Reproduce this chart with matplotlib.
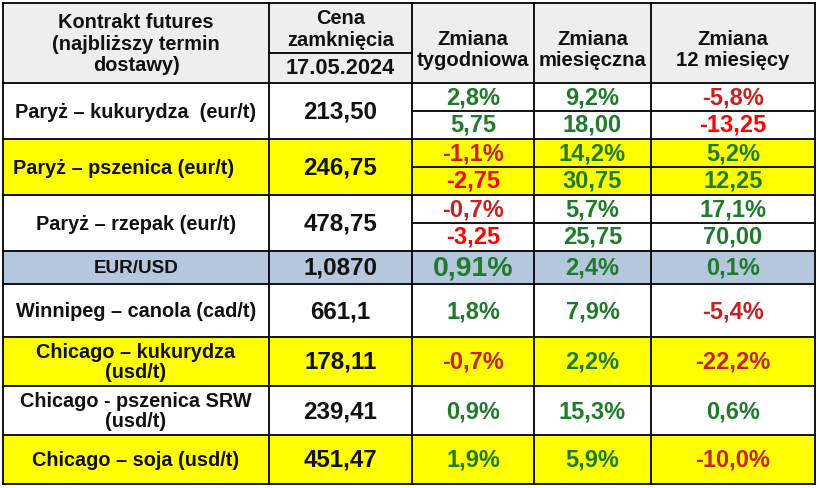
import matplotlib
matplotlib.use("Agg")
import matplotlib.pyplot as plt
from matplotlib.patches import Rectangle

plt.rcParams['font.family'] = ['Liberation Sans', 'DejaVu Sans']
plt.rcParams['font.weight'] = 'bold'

# ---------------- data ----------------
headers = ["Kontrakt futures\n(najbliższy termin\ndostawy)", "Cena\nzamknięcia",
           "Zmiana\ntygodniowa", "Zmiana\nmiesięczna", "Zmiana\n12 miesięcy"]
price_date = "17.05.2024"

contracts = ["Paryż – kukurydza  (eur/t)", "Paryż – pszenica (eur/t)",
             "Paryż – rzepak (eur/t)", "EUR/USD", "Winnipeg – canola (cad/t)",
             "Chicago – kukurydza\n(usd/t)", "Chicago - pszenica SRW\n(usd/t)",
             "Chicago – soja (usd/t)"]
prices = ["213,50", "246,75", "478,75", "1,0870", "661,1", "178,11", "239,41", "451,47"]
weekly_pct = ["2,8%", "-1,1%", "-0,7%", "0,91%", "1,8%", "-0,7%", "0,9%", "1,9%"]
monthly_pct = ["9,2%", "14,2%", "5,7%", "2,4%", "7,9%", "2,2%", "15,3%", "5,9%"]
yearly_pct = ["-5,8%", "5,2%", "17,1%", "0,1%", "-5,4%", "-22,2%", "0,6%", "-10,0%"]
# absolute changes (only the Paris contracts)
weekly_abs = ["5,75", "-2,75", "-3,25", None, None, None, None, None]
monthly_abs = ["18,00", "30,75", "25,75", None, None, None, None, None]
yearly_abs = ["-13,25", "12,25", "70,00", None, None, None, None, None]
row_fill = ["white", "yellow", "white", "blue", "white", "yellow", "white", "yellow"]

# ---------------- layout (pixels) ----------------
W, H = 818, 488
col_x = [3, 269, 412, 534, 651, 815]
header_top, header_bot, date_line = 3, 83, 53
row_y = [83, 139, 195, 251, 284, 337, 386, 435, 484]

fills = {"white": "#ffffff", "yellow": "#ffff00", "blue": "#b4c7dc"}
GREEN = "#1e7b2a"
DARK_RED = "#c9211e"
RED = "#ff0000"
LW = 1.3

fig = plt.figure(figsize=(W / 100, H / 100), dpi=100)
ax = fig.add_axes([0, 0, 1, 1])
ax.set_xlim(0, W)
ax.set_ylim(H, 0)
ax.axis("off")


def line(x0, y0, x1, y1):
    ax.plot([x0, x1], [y0, y1], color="black", lw=LW, solid_capstyle="projecting")


def val_color(s, pct=True):
    if s.startswith("-"):
        return DARK_RED if pct else RED
    return GREEN


# header
ax.add_patch(Rectangle((col_x[0], header_top), col_x[-1] - col_x[0],
                       header_bot - header_top, color="#eeeeee", lw=0))
ax.text((col_x[0] + col_x[1]) / 2, 44, headers[0], ha="center", va="center",
        fontsize=14.4, linespacing=1.15, color="#111111")
ax.text((col_x[1] + col_x[2]) / 2, 29.5, headers[1], ha="center", va="center",
        fontsize=14.4, linespacing=1.15, color="#111111")
ax.text((col_x[1] + col_x[2]) / 2, 69, price_date, ha="center", va="center",
        fontsize=15.7, color="#111111")
for j in range(2, 5):
    ax.text((col_x[j] + col_x[j + 1]) / 2, 50, headers[j], ha="center", va="center",
            fontsize=14.6, linespacing=1.15, color="#111111")

# body
for i, name in enumerate(contracts):
    y0, y1 = row_y[i], row_y[i + 1]
    ym = (y0 + y1) / 2
    ax.add_patch(Rectangle((col_x[0], y0), col_x[-1] - col_x[0], y1 - y0,
                           color=fills[row_fill[i]], lw=0))
    if i == 1:
        # this one sits left-aligned in the original
        ax.text(col_x[0] + 10, ym + 1, name, ha="left", va="center",
                fontsize=14.3, color="#111111")
    else:
        ax.text((col_x[0] + col_x[1]) / 2, ym + 1, name, ha="center", va="center",
                fontsize=14.3 if i != 3 else 13.6, linespacing=1.1, color="#111111")
    ax.text((col_x[1] + col_x[2]) / 2, ym + 1, prices[i], ha="center", va="center",
            fontsize=17.4, color="#111111")
    pcts = [weekly_pct[i], monthly_pct[i], yearly_pct[i]]
    abss = [weekly_abs[i], monthly_abs[i], yearly_abs[i]]
    for k in range(3):
        xc = (col_x[k + 2] + col_x[k + 3]) / 2
        size = 20.4 if (i == 3 and k == 0) else 17.0
        if abss[k] is not None:
            ax.text(xc, y0 + 14.5, pcts[k], ha="center", va="center",
                    fontsize=size, color=val_color(pcts[k]))
            ax.text(xc, y0 + 42, abss[k], ha="center", va="center",
                    fontsize=size, color=val_color(abss[k], pct=False))
        else:
            ax.text(xc, ym + 1, pcts[k], ha="center", va="center",
                    fontsize=size, color=val_color(pcts[k]))
    if weekly_abs[i] is not None:
        line(col_x[2], ym, col_x[-1], ym)

# grid lines
for y in [header_top, header_bot] + row_y[1:]:
    line(col_x[0], y, col_x[-1], y)
line(col_x[1], date_line, col_x[2], date_line)
for x in col_x:
    line(x, header_top, x, row_y[-1])

fig.savefig("out.png", dpi=100)
